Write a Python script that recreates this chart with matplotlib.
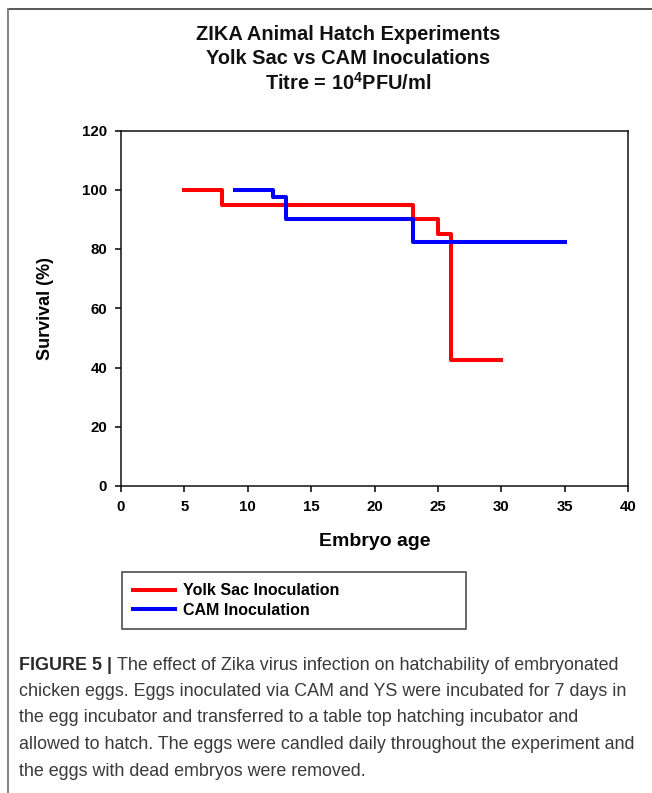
import matplotlib
matplotlib.use("Agg")
import matplotlib.pyplot as plt
from matplotlib.lines import Line2D

# ---- data ----
yolk_x = [5, 8, 23, 25, 26, 30]
yolk_y = [100, 95, 90, 85, 42.5, 42.5]
cam_x = [9, 12, 13, 23, 35]
cam_y = [100, 97.5, 90, 82.5, 82.5]
xticks = [0, 5, 10, 15, 20, 25, 30, 35, 40]
yticks = [0, 20, 40, 60, 80, 100, 120]
series_labels = ["Yolk Sac Inoculation", "CAM Inoculation"]
title_lines = ["ZIKA Animal Hatch Experiments", "Yolk Sac vs CAM Inoculations",
               r"Titre = 10$^{\mathbf{4}}$PFU/ml"]
caption_lines = [
    "The effect of Zika virus infection on hatchability of embryonated",
    "chicken eggs. Eggs inoculated via CAM and YS were incubated for 7 days in",
    "the egg incubator and transferred to a table top hatching incubator and",
    "allowed to hatch. The eggs were candled daily throughout the experiment and",
    "the eggs with dead embryos were removed.",
]

plt.rcParams['font.family'] = ["Liberation Sans", "DejaVu Sans"]
plt.rcParams['mathtext.fontset'] = 'custom'
plt.rcParams['mathtext.bf'] = 'Liberation Sans:bold'
plt.rcParams['mathtext.rm'] = 'Liberation Sans:bold'

W, H = 652, 793
fig = plt.figure(figsize=(W / 100, H / 100), dpi=100)

def fx(px):
    return px / W

def fy(py):
    return 1 - py / H

# outer frame lines (top and left)
fig.add_artist(Line2D([fx(7.5), 1], [fy(8.5), fy(8.5)], color="#4a4a4a", lw=1.3))
fig.add_artist(Line2D([fx(7.5), fx(7.5)], [fy(8.5), 0], color="#7a7a7a", lw=1.3))

ax = fig.add_axes([fx(121), fy(486), fx(628) - fx(121), fy(130.5) - fy(486)])
ax.step(yolk_x, yolk_y, where="post", color="#ff0000", lw=2.9, label=series_labels[0])
ax.step(cam_x, cam_y, where="post", color="#0000ff", lw=2.9, label=series_labels[1])
ax.set_xlim(0, 40)
ax.set_ylim(0, 120)
ax.set_xticks(xticks)
ax.set_yticks(yticks)
for s in ax.spines.values():
    s.set_linewidth(1.1)
    s.set_color("#111111")
ax.tick_params(direction="out", length=4, width=1.1, labelsize=10.8, pad=6)
for lbl in ax.get_xticklabels() + ax.get_yticklabels():
    lbl.set_fontweight("bold")
ax.set_xlabel("Embryo age", fontsize=14, fontweight="bold", labelpad=14)
ax.set_ylabel("Survival (%)", fontsize=13, fontweight="bold", labelpad=20)

# title
for i, t in enumerate(title_lines):
    fig.text(fx(348), fy(34 + 24.5 * i), t, ha="center", va="center",
             fontsize=14.4, fontweight="bold", color="#111111")

# legend
leg = fig.legend(loc="upper left",
                 bbox_to_anchor=(fx(122), fy(631), fx(466) - fx(122), fy(572) - fy(631)),
                 bbox_transform=fig.transFigure,
                 mode="expand", frameon=True, fancybox=False, edgecolor="#111111",
                 prop={"weight": "bold", "size": 11.5}, handlelength=2.6,
                 handletextpad=0.5, labelspacing=0.3, borderpad=0.7,
                 borderaxespad=0)
leg.get_frame().set_linewidth(1.1)

# caption
cap_font = ["Liberation Sans", "DejaVu Sans"]
y0 = 665
fs = 12.85
for i, line in enumerate(caption_lines):
    yy = fy(y0 + 26.5 * i)
    if i == 0:
        t1 = fig.text(fx(19), yy, "FIGURE 5 | ", fontsize=fs, fontweight="bold",
                      color="#2a2a2a", va="center", family=cap_font)
        fig.canvas.draw()
        bb = t1.get_window_extent()
        fig.text(bb.x1 / W, yy, line, fontsize=fs, color="#3a3a3a",
                 va="center", family=cap_font)
    else:
        fig.text(fx(19), yy, line, fontsize=fs, color="#3a3a3a",
                 va="center", family=cap_font)

fig.savefig("out.png", dpi=100)
